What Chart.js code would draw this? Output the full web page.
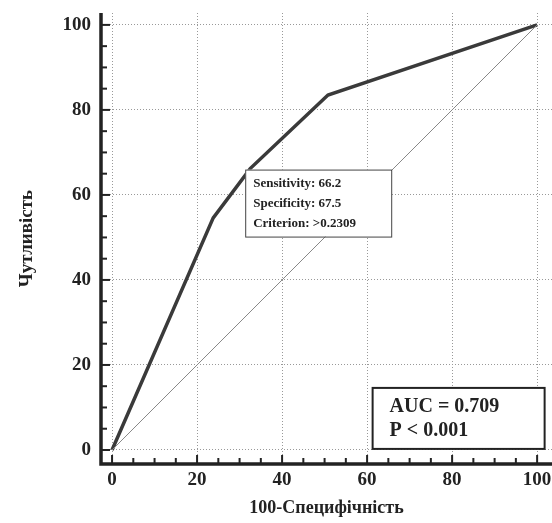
<!DOCTYPE html>
<html><head><meta charset="utf-8">
<script src="https://cdn.jsdelivr.net/npm/chart.js@4"></script>
<style>body{margin:0;background:#fff}#wrap{width:552px;height:523px}</style>
</head><body><div id="wrap"><canvas id="roc"></canvas></div>
<script>
const rocX = [0, 23.8, 32.5, 50.8, 100];
const rocY = [0, 54.6, 66.2, 83.5, 100];
const diagX = [0, 100];
const diagY = [0, 100];
const xTitle = '100-Специфічність';
const yTitle = 'Чутливість';
const criterionLines = ['Sensitivity: 66.2', 'Specificity: 67.5', 'Criterion: >0.2309'];
const aucLines = ['AUC = 0.709', 'P < 0.001'];

const serif = '"Liberation Serif", "DejaVu Serif", serif';

const extras = {
  id: 'extras',
  afterDraw(chart) {
    const ctx = chart.ctx, xs = chart.scales.x, ys = chart.scales.y;
    const a = chart.chartArea;
    ctx.save();
    // minor + major tick marks
    ctx.strokeStyle = '#222'; ctx.lineWidth = 2;
    for (let v = 0; v <= 100; v += 5) {
      const len = v % 20 === 0 ? 9 : 6;
      const px = xs.getPixelForValue(v);
      ctx.beginPath(); ctx.moveTo(px, a.bottom); ctx.lineTo(px, a.bottom - len); ctx.stroke();
      const py = ys.getPixelForValue(v);
      ctx.beginPath(); ctx.moveTo(a.left, py); ctx.lineTo(a.left + len, py); ctx.stroke();
    }
    // axis lines
    ctx.lineWidth = 3.5;
    ctx.beginPath(); ctx.moveTo(a.left, a.top); ctx.lineTo(a.left, a.bottom); ctx.lineTo(552, a.bottom); ctx.stroke();
    // criterion box
    let bx = xs.getPixelForValue(32.5) - 5, by = ys.getPixelForValue(66.2) + 1;
    ctx.fillStyle = '#fff'; ctx.fillRect(bx, by, 146, 67);
    ctx.strokeStyle = '#444'; ctx.lineWidth = 1; ctx.strokeRect(bx + 0.5, by + 0.5, 146, 67);
    ctx.fillStyle = '#222'; ctx.textBaseline = 'middle';
    ctx.font = 'bold 13px ' + serif;
    criterionLines.forEach((t, i) => ctx.fillText(t, bx + 8, by + 14 + i * 20));
    // AUC box
    const ax = xs.getPixelForValue(61.3), ay = ys.getPixelForValue(14.6);
    ctx.fillStyle = '#fff'; ctx.fillRect(ax, ay, 172, 61);
    ctx.strokeStyle = '#222'; ctx.lineWidth = 2; ctx.strokeRect(ax, ay, 172, 61);
    ctx.fillStyle = '#222'; ctx.font = 'bold 20px ' + serif;
    aucLines.forEach((t, i) => ctx.fillText(t, ax + 17, ay + 19 + i * 24));
    ctx.restore();
  }
};

new Chart(document.getElementById('roc'), {
  type: 'scatter',
  data: {
    datasets: [
      { data: diagX.map((x, i) => ({ x, y: diagY[i] })), showLine: true, borderColor: '#888', borderWidth: 1, pointRadius: 0 },
      { data: rocX.map((x, i) => ({ x, y: rocY[i] })), showLine: true, borderColor: '#3a3a3a', borderWidth: 3.5, pointRadius: 0 }
    ]
  },
  options: {
    responsive: true, maintainAspectRatio: false, animation: false,
    layout: { padding: { top: 13, right: 0, bottom: 0, left: 0 } },
    plugins: { legend: { display: false }, tooltip: { enabled: false } },
    scales: {
      x: {
        type: 'linear', min: -2.6, max: 103.5,
        afterBuildTicks: s => { s.ticks = [0, 20, 40, 60, 80, 100].map(v => ({ value: v })); },
        afterFit: s => { s.height = 59; s.paddingRight = 0; s.paddingLeft = 0; },
        grid: { color: '#999', lineWidth: 1, drawTicks: false },
        border: { display: false, dash: [1, 2] },
        ticks: { color: '#222', padding: 5, font: { family: serif, weight: 'bold', size: 19 } },
        title: { display: true, text: xTitle, color: '#222', font: { family: serif, weight: 'bold', size: 18 }, padding: { top: 6 } }
      },
      y: {
        type: 'linear', min: -3.3, max: 102.8,
        afterBuildTicks: s => { s.ticks = [0, 20, 40, 60, 80, 100].map(v => ({ value: v })); },
        afterFit: s => { s.width = 101; s.paddingTop = 0; s.paddingBottom = 0; },
        grid: { color: '#999', lineWidth: 1, drawTicks: false },
        border: { display: false, dash: [1, 2] },
        ticks: { color: '#222', padding: 10, font: { family: serif, weight: 'bold', size: 19 } },
        title: { display: true, text: yTitle, color: '#222', font: { family: serif, weight: 'bold', size: 19 }, padding: { top: 16, bottom: 0 } }
      }
    }
  },
  plugins: [extras]
});
</script></body></html>
